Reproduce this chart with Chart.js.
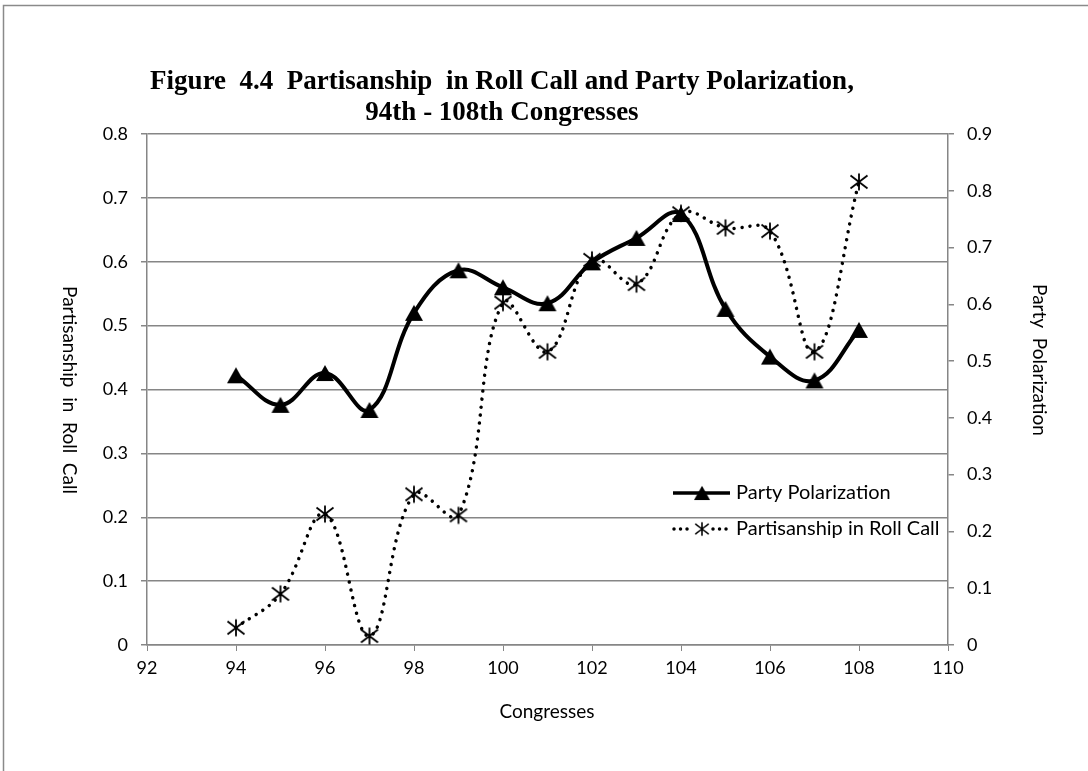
<!DOCTYPE html>
<html>
<head>
<meta charset="utf-8">
<script src="https://cdn.jsdelivr.net/npm/chart.js@4.4.1/dist/chart.umd.min.js"></script>
<style>
  html, body { margin: 0; padding: 0; background: #fff; }
  #wrap { width: 1088px; height: 771px; position: relative; }
</style>
</head>
<body>
<div id="wrap"><canvas id="chart" width="1088" height="771"></canvas></div>
<script>
// Congress numbers on the x axis
const congresses = [94, 95, 96, 97, 98, 99, 100, 101, 102, 103, 104, 105, 106, 107, 108];

// Party polarization (right axis)
const partyPolarization = [0.475, 0.423, 0.479, 0.414, 0.585, 0.660, 0.630, 0.602, 0.674, 0.717, 0.759, 0.592, 0.508, 0.466, 0.555];

// Partisanship in roll call votes (left axis)
const partisanshipRollCall = [0.027, 0.080, 0.205, 0.014, 0.236, 0.203, 0.536, 0.459, 0.603, 0.565, 0.676, 0.653, 0.648, 0.459, 0.725];

// Axis ranges and titles
const xRange = [92, 110, 2];
const leftRange = [0, 0.8, 0.1];
const rightRange = [0, 0.9, 0.1];

const titleLines = ['Figure  4.4  Partisanship  in Roll Call and Party Polarization,', '94th - 108th Congresses'];
const leftTitle = 'Partisanship  in  Roll  Call';
const rightTitle = 'Party  Polarization';
const xTitle = 'Congresses';
const seriesNames = ['Party Polarization', 'Partisanship in Roll Call'];

const GRID = '#868686';
const SANS = 'Lato, "Open Sans", sans-serif';

// six-armed asterisk marker
function asteriskMarker() {
  const c = document.createElement('canvas');
  c.width = 20; c.height = 20;
  const g = c.getContext('2d');
  g.strokeStyle = '#000';
  g.lineWidth = 1.8;
  g.beginPath();
  g.moveTo(10, 1.5); g.lineTo(10, 18.5);
  g.moveTo(1.5, 3.5); g.lineTo(18.5, 16.5);
  g.moveTo(18.5, 3.5); g.lineTo(1.5, 16.5);
  g.stroke();
  return c;
}

// solid triangle marker, centred on its bounding box
function triangleMarker() {
  const c = document.createElement('canvas');
  c.width = 20; c.height = 18;
  const g = c.getContext('2d');
  g.fillStyle = '#000';
  g.beginPath();
  g.moveTo(10, 1);
  g.lineTo(19, 17);
  g.lineTo(1, 17);
  g.closePath();
  g.fill();
  return c;
}
const star = asteriskMarker();
const tri = triangleMarker();

const toPoints = (ys) => congresses.map((x, i) => ({ x, y: ys[i] }));
const fmt = (v) => String(Number(v.toFixed(1)));

const decor = {
  id: 'decor',
  beforeDraw(chart) {
    const ctx = chart.ctx;
    ctx.save();
    ctx.fillStyle = '#fff';
    ctx.fillRect(0, 0, chart.width, chart.height);
    ctx.strokeStyle = '#8a8a8a';
    ctx.lineWidth = 1.5;
    ctx.beginPath();
    ctx.moveTo(3.5, chart.height);
    ctx.lineTo(3.5, 5.5);
    ctx.lineTo(chart.width, 5.5);
    ctx.stroke();
    ctx.restore();
  },
  afterDraw(chart) {
    const ctx = chart.ctx;
    ctx.save();
    ctx.fillStyle = '#000';

    // chart title
    ctx.font = 'bold 27px "Liberation Serif", serif';
    ctx.textAlign = 'center';
    ctx.textBaseline = 'alphabetic';
    ctx.fillText(titleLines[0], 502, 89);
    ctx.fillText(titleLines[1], 502, 120);

    // axis titles
    ctx.font = '19px ' + SANS;
    ctx.textBaseline = 'middle';
    ctx.fillText(xTitle, 547, 712);

    ctx.save();
    ctx.translate(69, 390);
    ctx.rotate(Math.PI / 2);
    ctx.fillText(leftTitle, 0, 0);
    ctx.restore();

    ctx.save();
    ctx.translate(1039, 360);
    ctx.rotate(Math.PI / 2);
    ctx.fillText(rightTitle, 0, 0);
    ctx.restore();

    // legend
    const lx0 = 673, lx1 = 730, mx = 702, tx = 736;
    const r1 = 493, r2 = 529;
    ctx.strokeStyle = '#000';
    ctx.lineWidth = 3.5;
    ctx.beginPath();
    ctx.moveTo(lx0, r1); ctx.lineTo(lx1, r1);
    ctx.stroke();
    ctx.drawImage(tri, mx - 9, r1 - 8, 18, 16);

    ctx.lineWidth = 3.5;
    ctx.lineCap = 'round';
    ctx.setLineDash([0.01, 6.5]);
    ctx.beginPath();
    ctx.moveTo(lx0 + 1, r2); ctx.lineTo(lx0 + 16, r2);
    ctx.moveTo(mx + 11, r2); ctx.lineTo(mx + 26, r2);
    ctx.stroke();
    ctx.setLineDash([]);
    ctx.drawImage(star, mx - 8, r2 - 8, 16, 16);

    ctx.font = '20px ' + SANS;
    ctx.textAlign = 'left';
    ctx.fillText(seriesNames[0], tx, r1);
    ctx.fillText(seriesNames[1], tx, r2);
    ctx.restore();
  }
};

new Chart(document.getElementById('chart'), {
  type: 'line',
  data: {
    datasets: [
      {
        label: seriesNames[0],
        data: toPoints(partyPolarization),
        yAxisID: 'y2',
        borderColor: '#000',
        backgroundColor: '#000',
        borderWidth: 4,
        tension: 0.4,
        pointStyle: tri,
        pointRadius: 10,
        fill: false
      },
      {
        label: seriesNames[1],
        data: toPoints(partisanshipRollCall),
        yAxisID: 'y',
        borderColor: '#000',
        backgroundColor: '#000',
        borderWidth: 3.5,
        borderDash: [0.01, 8],
        borderCapStyle: 'round',
        tension: 0.4,
        pointStyle: star,
        pointRadius: 10,
        fill: false
      }
    ]
  },
  options: {
    responsive: false,
    animation: false,
    events: [],
    devicePixelRatio: 1,
    layout: { padding: { top: 134, left: 0, right: 0, bottom: 0 } },
    plugins: { legend: { display: false }, title: { display: false }, tooltip: { enabled: false } },
    scales: {
      x: {
        type: 'linear',
        min: xRange[0], max: xRange[1],
        ticks: { stepSize: xRange[2], color: '#000', font: { family: SANS, size: 18 }, padding: 6 },
        grid: { drawOnChartArea: false, drawTicks: true, tickLength: 6, color: GRID },
        border: { color: GRID, width: 1.5 },
        afterFit(s) { s.height = 126; }
      },
      y: {
        position: 'left',
        min: leftRange[0], max: leftRange[1],
        ticks: { stepSize: leftRange[2], color: '#000', font: { family: SANS, size: 18 }, padding: 13, callback: fmt },
        grid: { color: GRID, lineWidth: 1.5, tickLength: 6 },
        border: { color: GRID, width: 1.5 },
        afterFit(s) { s.width = 147; }
      },
      y2: {
        position: 'right',
        min: rightRange[0], max: rightRange[1],
        ticks: { stepSize: rightRange[2], color: '#000', font: { family: SANS, size: 18 }, padding: 13, callback: fmt },
        grid: { drawOnChartArea: false, tickLength: 6, color: GRID, lineWidth: 1.5 },
        border: { color: GRID, width: 1.5 },
        afterFit(s) { s.width = 140; }
      }
    }
  },
  plugins: [decor]
});
</script>
</body>
</html>
